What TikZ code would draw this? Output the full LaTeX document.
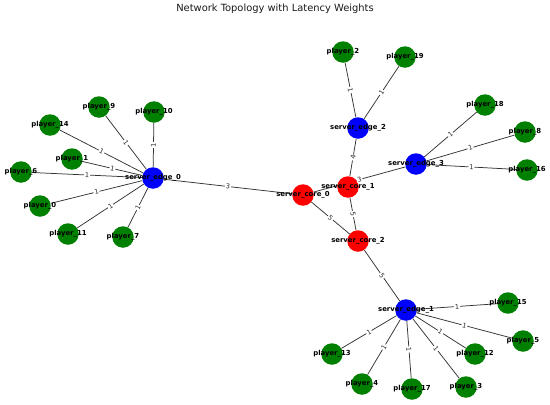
\documentclass[tikz,border=0pt]{standalone}
\usepackage{fontspec}
\setmainfont{DejaVu Sans}
\usetikzlibrary{backgrounds}
\definecolor{plgreen}{RGB}{0,128,0}
\begin{document}
\begin{tikzpicture}[x=1pt,y=-1pt,
  vtx/.style={circle,minimum size=21.5pt,inner sep=0pt,draw=none},
  player/.style={vtx,fill=plgreen},
  edgesrv/.style={vtx,fill=blue},
  core/.style={vtx,fill=red},
  vname/.style={inner sep=0pt,font=\fontsize{6.9}{7}\selectfont\bfseries,text=black},
  link/.style={draw=black!80,line width=0.75pt},
  wlabel/.style={fill=white,inner sep=0.9pt,rounded corners=1pt,font=\fontsize{6.6}{7}\selectfont,text=black!85},
  ttl/.style={font=\fontsize{9.9}{11}\selectfont,text=black!90}]
\useasboundingbox (0,0) rectangle (550,405);
\node[ttl] (title) at (275,9) {Network Topology with Latency Weights};
% vertices
\node[edgesrv] (server_edge_0) at (153,178) {};
\node[player] (player_9) at (99,107) {};
\node[player] (player_10) at (154,112) {};
\node[player] (player_14) at (50,125) {};
\node[player] (player_1) at (72,159) {};
\node[player] (player_6) at (21,172) {};
\node[player] (player_0) at (40,206) {};
\node[player] (player_11) at (68,234) {};
\node[player] (player_7) at (123,237) {};
\node[player] (player_2) at (343,52) {};
\node[player] (player_19) at (405,57) {};
\node[edgesrv] (server_edge_2) at (358,128) {};
\node[player] (player_18) at (485,105) {};
\node[player] (player_8) at (525,132) {};
\node[player] (player_16) at (527,170) {};
\node[edgesrv] (server_edge_3) at (416,164) {};
\node[core] (server_core_1) at (348,187) {};
\node[core] (server_core_0) at (303,195) {};
\node[core] (server_core_2) at (358,241) {};
\node[edgesrv] (server_edge_1) at (406,310) {};
\node[player] (player_15) at (508,303) {};
\node[player] (player_5) at (523,341) {};
\node[player] (player_13) at (332,354) {};
\node[player] (player_12) at (475,354) {};
\node[player] (player_4) at (362,384) {};
\node[player] (player_17) at (412,389) {};
\node[player] (player_3) at (466,387) {};
% connectors
\begin{scope}[on background layer]
\foreach \a/\b in {server_edge_0/player_9,server_edge_0/player_10,server_edge_0/player_14,
  server_edge_0/player_1,server_edge_0/player_6,server_edge_0/player_0,server_edge_0/player_11,
  server_edge_0/player_7,server_edge_0/server_core_0,server_core_0/server_edge_3,
  server_core_0/server_core_2,server_core_1/server_core_2,server_core_1/server_edge_2,
  server_edge_2/player_2,server_edge_2/player_19,server_edge_3/player_18,server_edge_3/player_8,
  server_edge_3/player_16,server_core_2/server_edge_1,server_edge_1/player_15,server_edge_1/player_5,
  server_edge_1/player_13,server_edge_1/player_12,server_edge_1/player_4,server_edge_1/player_17,
  server_edge_1/player_3}
  \draw[link] (\a) -- (\b);
\end{scope}
% vertex names
\foreach \n in {server_edge_0,server_edge_1,server_edge_2,server_edge_3,
  server_core_0,server_core_1,server_core_2,
  player_0,player_1,player_2,player_3,player_4,player_5,player_6,player_7,player_8,player_9,
  player_10,player_11,player_12,player_13,player_14,player_15,player_16,player_17,player_18,player_19}
  \node[vname] (\n-t) at (\n.center) {\detokenize\expandafter{\n}};
% weights
\foreach \a/\b/\w in {server_edge_0/player_9/1,server_edge_0/player_10/1,server_edge_0/player_14/1,
  server_edge_0/player_1/1,server_edge_0/player_6/1,server_edge_0/player_0/1,server_edge_0/player_11/1,
  server_edge_0/player_7/1,server_edge_0/server_core_0/3,server_core_0/server_edge_3/3,
  server_core_0/server_core_2/5,server_core_1/server_core_2/5,server_core_1/server_edge_2/4,
  server_edge_2/player_2/1,server_edge_2/player_19/1,server_edge_3/player_18/1,server_edge_3/player_8/1,
  server_edge_3/player_16/1,server_core_2/server_edge_1/5,server_edge_1/player_15/1,server_edge_1/player_5/1,
  server_edge_1/player_13/1,server_edge_1/player_12/1,server_edge_1/player_4/1,server_edge_1/player_17/1,
  server_edge_1/player_3/1}
  \path (\a.center) -- (\b.center) node[midway,sloped,wlabel] (w-\a-\b) {\w};
\end{tikzpicture}
\end{document}
